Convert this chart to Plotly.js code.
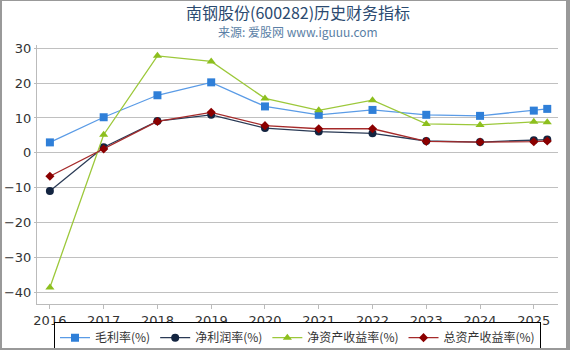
<!DOCTYPE html>
<html><head><meta charset="utf-8">
<script src="https://cdn.plot.ly/plotly-3.0.1.min.js"></script>
<style>
html,body{margin:0;padding:0;background:#fff;}
#wrap{position:absolute;left:0;top:0;width:570px;height:350px;box-sizing:border-box;border-top:1px solid #999;border-left:2px solid #999;border-right:4px solid #999;border-bottom:2px solid #999;pointer-events:none;}
#chart{position:absolute;left:0;top:0;width:570px;height:350px;}
</style></head>
<body>
<div id="chart"></div>
<div id="wrap"></div>
<script>
const years = [2016, 2017, 2018, 2019, 2020, 2021, 2022, 2023, 2024, 2025, 2025.25];
const tickVals = [2016, 2017, 2018, 2019, 2020, 2021, 2022, 2023, 2024, 2025];
const tickText = ["2016","2017","2018","2019","2020","2021","2022","2023","2024","2025"];
const grossMargin = [3.0, 10.2, 16.5, 20.2, 13.3, 10.9, 12.3, 10.9, 10.6, 12.1, 12.6];
const netMargin = [-10.9, 1.6, 9.1, 10.9, 7.1, 6.1, 5.6, 3.4, 3.1, 3.6, 3.8];
const roe = [-38.6, 5.2, 27.8, 26.2, 15.6, 12.2, 15.1, 8.3, 8.0, 8.9, 8.8];
const roa = [-6.7, 1.1, 9.0, 11.6, 7.8, 6.9, 6.9, 3.3, 3.1, 3.2, 3.4];
const names = ["毛利率(%)", "净利润率(%)", "净资产收益率(%)", "总资产收益率(%)"];
const titleText = "南钢股份(600282)历史财务指标";
const subtitleText = "来源: 爱股网 www.iguuu.com";

const traces = [
  {x: years, y: grossMargin, name: names[0], mode: "lines+markers",
   line: {color: "#5a9be6", width: 1.3}, marker: {symbol: "square", size: 8, color: "#2f7fd8"}},
  {x: years, y: netMargin, name: names[1], mode: "lines+markers",
   line: {color: "#2a3a55", width: 1.3}, marker: {symbol: "circle", size: 8, color: "#132440"}},
  {x: years, y: roe, name: names[2], mode: "lines+markers",
   line: {color: "#9cc83a", width: 1.3}, marker: {symbol: "triangle-up", size: 8, color: "#8dbf1e"}},
  {x: years, y: roa, name: names[3], mode: "lines+markers",
   line: {color: "#a52a2a", width: 1.3}, marker: {symbol: "diamond", size: 7, color: "#8b0000"}}
];

const layout = {
  width: 570, height: 350,
  paper_bgcolor: "#fff", plot_bgcolor: "#fff",
  font: {family: "DejaVu Sans, 'Noto Sans CJK SC', sans-serif", size: 13, color: "#333"},
  margin: {l: 37, r: 12, t: 45, b: 46, autoexpand: false},
  annotations: [
    {text: titleText, xref: "paper", yref: "paper", x: 0.5, y: 1, xanchor: "center", yanchor: "middle",
     yshift: 33, showarrow: false,
     font: {family: "'Noto Sans CJK SC', DejaVu Sans, sans-serif", size: 16, color: "#2b4a70"}},
    {text: subtitleText, xref: "paper", yref: "paper", x: 0.5, y: 1, xanchor: "center", yanchor: "middle",
     yshift: 14, showarrow: false,
     font: {family: "'Noto Sans CJK SC', DejaVu Sans, sans-serif", size: 12, color: "#5b7fa6"}}
  ],
  xaxis: {range: [2015.76, 2025.45], tickvals: tickVals, ticktext: tickText,
          showgrid: false, zeroline: false, showline: true, linecolor: "#bbb", linewidth: 1,
          ticks: "outside", ticklen: 4, tickcolor: "#bbb", tickfont: {size: 13, color: "#333"}},
  yaxis: {range: [-43.3, 30.9], tickvals: [-40, -30, -20, -10, 0, 10, 20, 30],
          showgrid: true, gridcolor: "#c0c0c0", gridwidth: 1, zeroline: false,
          showline: true, linecolor: "#bbb", linewidth: 1,
          ticks: "outside", ticklen: 2, tickcolor: "#bbb", tickfont: {size: 13, color: "#333"}},
  showlegend: true,
  legend: {orientation: "h", x: 0.5, xanchor: "center", y: -0.07, yanchor: "top",
           bordercolor: "#000", borderwidth: 1, bgcolor: "#fff",
           font: {family: "'Noto Sans CJK SC', DejaVu Sans, sans-serif", size: 12, color: "#333"},
           itemwidth: 30, tracegroupgap: 0}
};
Plotly.newPlot("chart", traces, layout, {displayModeBar: false, staticPlot: true});
</script>
</body></html>
